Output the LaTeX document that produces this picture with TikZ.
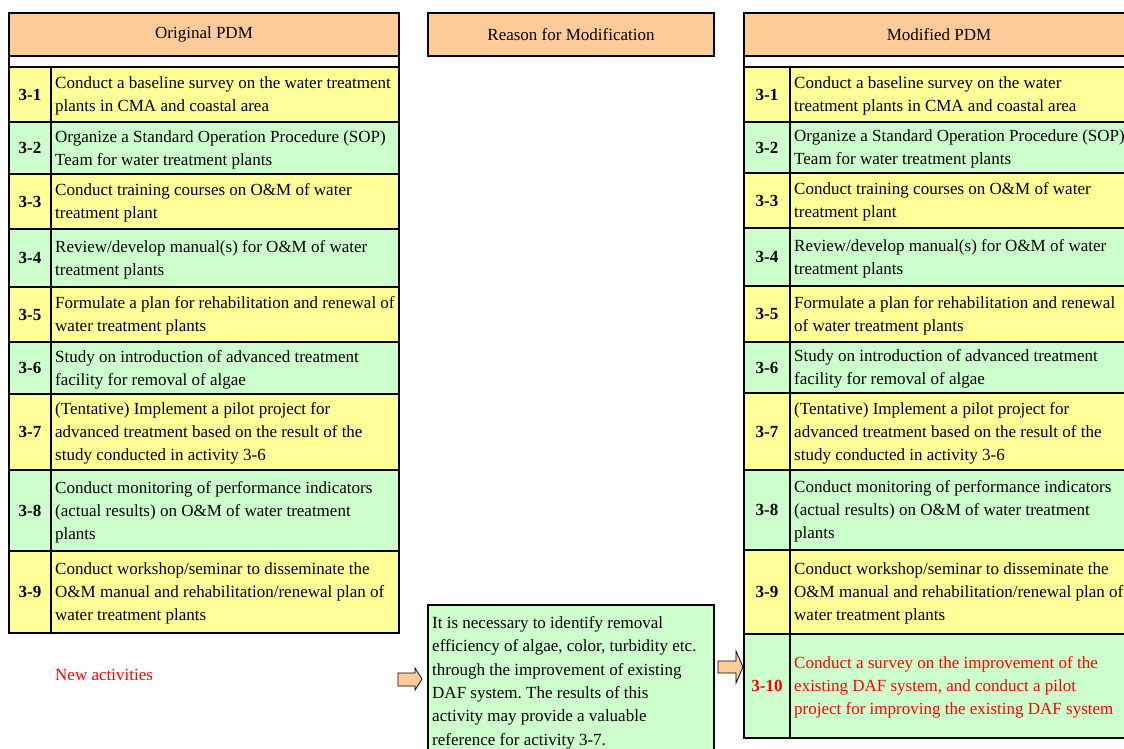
\documentclass[tikz,border=0pt]{standalone}
\usepackage{fontspec}
\setmainfont{Liberation Serif}
\frenchspacing
\definecolor{hdr}{HTML}{FFCC99}
\definecolor{yel}{HTML}{FFFF99}
\definecolor{grn}{HTML}{CCFFCC}
\definecolor{redtxt}{HTML}{FF0000}
\tikzset{
  cellbox/.style={draw=black, line width=2pt, inner sep=0pt, outer sep=0pt},
  framebox/.style={draw=black, line width=2.2pt, inner sep=0pt, outer sep=0pt},
  celltext/.style={anchor=west, align=left, inner sep=0pt, font=\fontsize{17}{23}\selectfont},
  numtext/.style={inner sep=0pt, font=\fontsize{17}{23}\selectfont\bfseries},
  hdrtext/.style={inner sep=0pt, font=\fontsize{17}{23}\selectfont},
  blockarrow/.style={draw=black, line width=0.8pt, fill=hdr, line join=miter},
}
% #1 name, #2 x left, #3 x divider, #4 x right, #5 y top, #6 y bottom, #7 colour, #8 number, #9 text
\newcommand{\tblrow}[9]{%
  \node[cellbox, fill=#7, minimum width={(#3-#2)*1pt}, minimum height={(#6-#5)*1pt}]
    (#1n) at ({(#2+#3)/2},{(#5+#6)/2}) {};
  \node[numtext] (#1nl) at (#1n.center) {#8};
  \node[cellbox, fill=#7, minimum width={(#4-#3)*1pt}, minimum height={(#6-#5)*1pt}]
    (#1t) at ({(#3+#4)/2},{(#5+#6)/2}) {};
  \node[celltext] (#1tl) at ([xshift=4pt,yshift=-1.5pt]#1t.west) {#9};
}
\begin{document}
\begin{tikzpicture}[x=1pt,y=-1pt]
\useasboundingbox (0,0) rectangle (1124,749);
\clip (0,0) rectangle (1124,749);
\fill[white] (0,0) rectangle (1124,749);

% ---------- headers ----------
\node[cellbox, fill=hdr, minimum width=390pt, minimum height=43pt] (hL) at (204,34.5) {};
\node[hdrtext] (hLt) at (hL.center) {Original PDM};
\node[cellbox, fill=hdr, minimum width=286pt, minimum height=43pt] (hM) at (571,34.5) {};
\node[hdrtext] (hMt) at (hM.center) {Reason for Modification};
\node[cellbox, fill=hdr, minimum width=396pt, minimum height=43pt] (hR) at (942,34.5) {};
\node[hdrtext] (hRt) at ([xshift=-3pt]hR.center) {Modified PDM};

% ---------- left table ----------
\tblrow{L1}{9}{51}{399}{67}{122}{yel}{3-1}{Conduct a baseline survey on the water treatment\\plants in CMA and coastal area}
\tblrow{L2}{9}{51}{399}{122}{174}{grn}{3-2}{Organize a Standard Operation Procedure (SOP)\\Team for water treatment plants}
\tblrow{L3}{9}{51}{399}{174}{229}{yel}{3-3}{Conduct training courses on O\&M of water\\treatment plant}
\tblrow{L4}{9}{51}{399}{229}{287}{grn}{3-4}{Review/develop manual(s) for O\&M of water\\treatment plants}
\tblrow{L5}{9}{51}{399}{287}{342}{yel}{3-5}{Formulate a plan for rehabilitation and renewal of\\water treatment plants}
\tblrow{L6}{9}{51}{399}{342}{394}{grn}{3-6}{Study on introduction of advanced treatment\\facility for removal of algae}
\tblrow{L7}{9}{51}{399}{394}{470}{yel}{3-7}{(Tentative) Implement a pilot project for\\advanced treatment based on the result of the\\study conducted in activity 3-6}
\tblrow{L8}{9}{51}{399}{470}{551}{grn}{3-8}{Conduct monitoring of performance indicators\\(actual results) on O\&M of water treatment\\plants}
\tblrow{L9}{9}{51}{399}{551}{633}{yel}{3-9}{Conduct workshop/seminar to disseminate the\\O\&M manual and rehabilitation/renewal plan of\\water treatment plants}
\node[framebox, minimum width=390pt, minimum height=620pt] (Lframe) at (204,323) {};

% ---------- right table ----------
\tblrow{R1}{744}{790}{1140}{67}{122}{yel}{3-1}{Conduct a baseline survey on the water\\treatment plants in CMA and coastal area}
\tblrow{R2}{744}{790}{1140}{122}{173}{grn}{3-2}{Organize a Standard Operation Procedure (SOP)\\Team for water treatment plants}
\tblrow{R3}{744}{790}{1140}{173}{228}{yel}{3-3}{Conduct training courses on O\&M of water\\treatment plant}
\tblrow{R4}{744}{790}{1140}{228}{286}{grn}{3-4}{Review/develop manual(s) for O\&M of water\\treatment plants}
\tblrow{R5}{744}{790}{1140}{286}{342}{yel}{3-5}{Formulate a plan for rehabilitation and renewal\\of water treatment plants}
\tblrow{R6}{744}{790}{1140}{342}{393}{grn}{3-6}{Study on introduction of advanced treatment\\facility for removal of algae}
\tblrow{R7}{744}{790}{1140}{393}{470}{yel}{3-7}{(Tentative) Implement a pilot project for\\advanced treatment based on the result of the\\study conducted in activity 3-6}
\tblrow{R8}{744}{790}{1140}{470}{550}{grn}{3-8}{Conduct monitoring of performance indicators\\(actual results) on O\&M of water treatment\\plants}
\tblrow{R9}{744}{790}{1140}{550}{634}{yel}{3-9}{Conduct workshop/seminar to disseminate the\\O\&M manual and rehabilitation/renewal plan of\\water treatment plants}
\tblrow{R10}{744}{790}{1140}{634}{738}{grn}{\color{redtxt}3-10}{\color{redtxt}Conduct a survey on the improvement of the\\\color{redtxt}existing DAF system, and conduct a pilot\\\color{redtxt}project for improving the existing DAF system}
\node[framebox, minimum width=396pt, minimum height=725pt] (Rframe) at (942,375.5) {};

% ---------- middle ----------
\node[cellbox, fill=grn, minimum width=286pt, minimum height=165pt] (mbox) at (571,687.5) {};
\node[anchor=north west, align=left, inner sep=0pt, font=\fontsize{17}{23.3}\selectfont] (mtext) at (432,616.5)
  {It is necessary to identify removal\\efficiency of algae, color, turbidity etc.\\through the improvement of existing\\DAF system. The results of this\\activity may provide a valuable\\reference for activity 3-7.};

% ---------- new activities ----------
\node[anchor=base west, inner sep=0pt, text=redtxt, font=\fontsize{17}{23}\selectfont] (newact) at (55,680) {New activities};

% ---------- block arrows ----------
\draw[blockarrow] (398,673) -- (415,673) -- (415,668) -- (422,679) -- (415,690) -- (415,686) -- (398,686) -- cycle;
\draw[blockarrow] (718,661) -- (736,661) -- (736,651) -- (743,667) -- (736,683) -- (736,673) -- (718,673) -- cycle;
\end{tikzpicture}
\end{document}
